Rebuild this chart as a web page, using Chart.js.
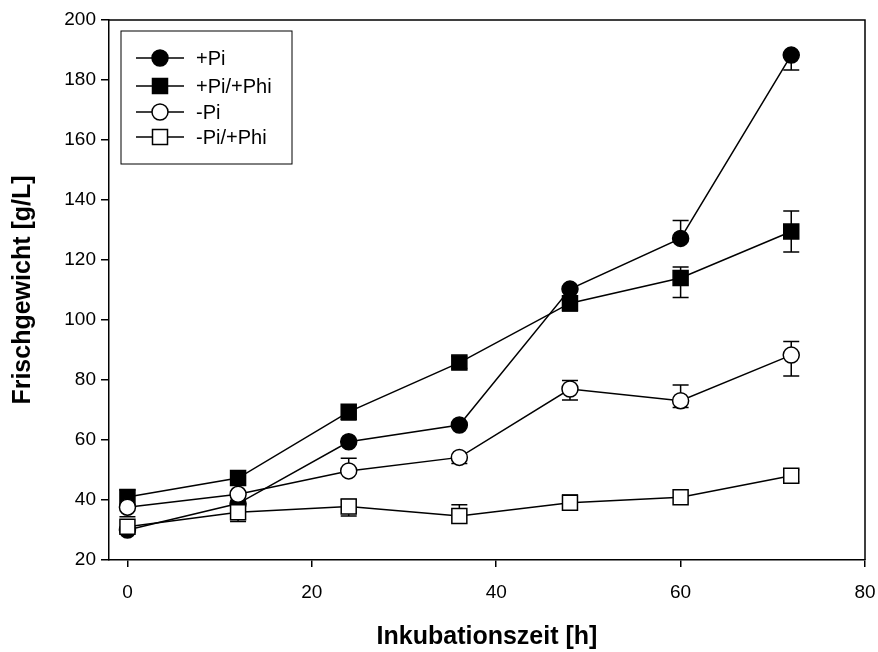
<!DOCTYPE html>
<html>
<head>
<meta charset="utf-8">
<script src="https://cdn.jsdelivr.net/npm/chart.js@4"></script>
<style>
  html, body { margin: 0; padding: 0; background: #fff; }
  #wrap { width: 878px; height: 652px; position: relative; }
</style>
</head>
<body>
<div id="wrap"><canvas id="chart"></canvas></div>
<script>
// --- data ---
const hours = [0, 12, 24, 36, 48, 60, 72];
const xTicks = [0, 20, 40, 60, 80];
const yTicks = [20, 40, 60, 80, 100, 120, 140, 160, 180, 200];

const seriesNames = ['+Pi', '+Pi/+Phi', '-Pi', '-Pi/+Phi'];

const piPlus        = [30.0, 38.8, 59.4, 65.0, 110.3, 127.2, 188.3];
const piPlusUp      = [0, 0, 0, 0, 0, 6.0, 0];
const piPlusDown    = [0, 0, 0, 0, 0, 0, 5.0];

const piPhiPlus     = [41.0, 47.3, 69.4, 85.8, 105.6, 114.0, 129.5];
const piPhiPlusUp   = [2.3, 0, 0, 2.0, 0, 3.7, 6.8];
const piPhiPlusDown = [0, 0, 2.7, 2.0, 2.6, 6.5, 6.8];

const piMinus       = [37.6, 41.9, 49.7, 54.2, 77.0, 73.1, 88.3];
const piMinusUp     = [0, 0, 4.2, 0, 2.8, 5.2, 4.5];
const piMinusDown   = [3.2, 0, 0, 2.0, 3.7, 2.3, 7.0];

const piPhiMinus    = [31.1, 35.9, 37.8, 34.7, 39.1, 40.9, 48.1];
const piPhiMinusUp  = [0, 0, 2.4, 3.7, 2.6, 0, 2.0];
const piPhiMinusDown= [0, 3.1, 3.1, 0, 0, 0, 2.0];

const FONT = "'Liberation Sans', Arial, sans-serif";

function toPoints(values) {
    return hours.map((h, i) => ({ x: h, y: values[i] }));
}

function makeSet(label, values, up, down, style, fill) {
    return {
        label: label,
        data: toPoints(values),
        errUp: up,
        errDown: down,
        borderColor: '#000',
        borderWidth: 1.5,
        pointStyle: style,
        pointRadius: style === 'rect' ? 10.6 : 8,
        pointBackgroundColor: fill,
        pointBorderColor: '#000',
        pointBorderWidth: 1.5,
        pointHoverRadius: style === 'rect' ? 10.6 : 8,
        tension: 0,
        fill: false
    };
}

const datasets = [
    makeSet(seriesNames[3], piPhiMinus, piPhiMinusUp, piPhiMinusDown, 'rect', '#fff'),
    makeSet(seriesNames[2], piMinus, piMinusUp, piMinusDown, 'circle', '#fff'),
    makeSet(seriesNames[1], piPhiPlus, piPhiPlusUp, piPhiPlusDown, 'rect', '#000'),
    makeSet(seriesNames[0], piPlus, piPlusUp, piPlusDown, 'circle', '#000')
];

// --- error bars, drawn under the symbols ---
const errorBars = {
    id: 'errorBars',
    beforeDatasetsDraw(chart) {
        const ctx = chart.ctx;
        const yScale = chart.scales.y;
        ctx.save();
        ctx.strokeStyle = '#000';
        ctx.lineWidth = 1.5;
        chart.data.datasets.forEach((ds, di) => {
            const meta = chart.getDatasetMeta(di);
            meta.data.forEach((pt, i) => {
                const v = ds.data[i].y;
                const ends = [];
                if (ds.errUp[i] > 0) ends.push(yScale.getPixelForValue(v + ds.errUp[i]));
                if (ds.errDown[i] > 0) ends.push(yScale.getPixelForValue(v - ds.errDown[i]));
                ends.forEach(yy => {
                    ctx.beginPath();
                    ctx.moveTo(pt.x, pt.y);
                    ctx.lineTo(pt.x, yy);
                    ctx.moveTo(pt.x - 8, yy);
                    ctx.lineTo(pt.x + 8, yy);
                    ctx.stroke();
                });
            });
        });
        ctx.restore();
    }
};

// --- box around the plot + legend inside it ---
function drawSymbol(ctx, style, fill, x, y) {
    ctx.fillStyle = fill;
    ctx.strokeStyle = '#000';
    ctx.lineWidth = 1.5;
    ctx.beginPath();
    if (style === 'circle') {
        ctx.arc(x, y, 8, 0, Math.PI * 2);
    } else {
        ctx.rect(x - 7.5, y - 7.5, 15, 15);
    }
    ctx.fill();
    ctx.stroke();
}

const frameAndLegend = {
    id: 'frameAndLegend',
    afterDraw(chart) {
        const ctx = chart.ctx;
        const a = chart.chartArea;
        ctx.save();
        ctx.strokeStyle = '#000';
        ctx.lineWidth = 1.5;
        ctx.beginPath();
        ctx.moveTo(a.left, a.top);
        ctx.lineTo(a.right, a.top);
        ctx.lineTo(a.right, a.bottom);
        ctx.stroke();

        // legend
        ctx.lineWidth = 1;
        ctx.strokeRect(121, 31, 171, 133);
        const rows = [58, 86, 112, 137];
        const order = [3, 2, 1, 0];
        order.forEach((di, r) => {
            const ds = chart.data.datasets[di];
            const y = rows[r];
            ctx.lineWidth = 1.5;
            ctx.beginPath();
            ctx.moveTo(136, y);
            ctx.lineTo(184, y);
            ctx.stroke();
            drawSymbol(ctx, ds.pointStyle, ds.pointBackgroundColor, 160, y);
            ctx.fillStyle = '#000';
            ctx.font = '20px ' + FONT;
            ctx.textBaseline = 'middle';
            ctx.textAlign = 'left';
            ctx.fillText(ds.label, 196, y + 1);
        });
        ctx.restore();
    }
};

new Chart(document.getElementById('chart'), {
    type: 'line',
    data: { datasets: datasets },
    plugins: [errorBars, frameAndLegend],
    options: {
        responsive: true,
        maintainAspectRatio: false,
        animation: false,
        layout: { padding: { top: 20, right: 13, left: 0, bottom: 0 } },
        plugins: {
            legend: { display: false },
            tooltip: { enabled: false }
        },
        scales: {
            x: {
                type: 'linear',
                min: -2,
                max: 80,
                afterBuildTicks: scale => { scale.ticks = xTicks.map(v => ({ value: v })); },
                afterFit: scale => {
                    scale.height = 92;
                    scale.paddingLeft = 0;
                    scale.paddingRight = 0;
                },
                ticks: { color: '#000', font: { family: FONT, size: 19 }, padding: 14 },
                grid: { drawOnChartArea: false, drawTicks: true, tickLength: 7, color: '#000', lineWidth: 1.5 },
                border: { display: true, color: '#000', width: 1.5 },
                title: {
                    display: true,
                    text: 'Inkubationszeit [h]',
                    color: '#000',
                    font: { family: FONT, size: 25, weight: 'bold' },
                    padding: { top: 10, bottom: 0 }
                }
            },
            y: {
                min: 20,
                max: 200,
                afterBuildTicks: scale => { scale.ticks = yTicks.map(v => ({ value: v })); },
                afterFit: scale => {
                    scale.width = 109;
                    scale.paddingTop = 0;
                    scale.paddingBottom = 0;
                },
                ticks: { color: '#000', font: { family: FONT, size: 19 }, padding: 5 },
                grid: { drawOnChartArea: false, drawTicks: true, tickLength: 8, color: '#000', lineWidth: 1.5 },
                border: { display: true, color: '#000', width: 1.5 },
                title: {
                    display: true,
                    text: 'Frischgewicht [g/L]',
                    color: '#000',
                    font: { family: FONT, size: 25, weight: 'bold' },
                    padding: { top: 8, bottom: 0 }
                }
            }
        }
    }
});
</script>
</body>
</html>
